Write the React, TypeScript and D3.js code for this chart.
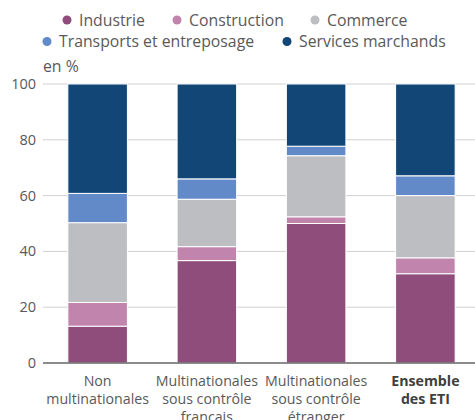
import React from "react";
import * as d3 from "d3";

const categories = [
  ["Non", "multinationales"],
  ["Multinationales", "sous contrôle", "français"],
  ["Multinationales", "sous contrôle", "étranger"],
  ["Ensemble", "des ETI"],
];
const boldCategory = [false, false, false, true];

const sectors = ["Industrie", "Construction", "Commerce", "Transports et entreposage", "Services marchands"];
const sectorColors = ["#8f4d7c", "#c184ad", "#bdbec2", "#628ac8", "#124677"];

// share of each sector, per category (en %)
const industrie = [13.2, 36.7, 50, 32];
const construction = [8.5, 5, 2.4, 5.7];
const commerce = [28.6, 17, 21.9, 22.3];
const transports = [10.5, 7.3, 3.4, 7.1];
const services = [39.2, 34, 22.3, 32.9];

const yTicks = [0, 20, 40, 60, 80, 100];

const W = 475;
const H = 420;
const font = "'Open Sans', sans-serif";
const textColor = "#595959";

export default function App() {
  const series = [industrie, construction, commerce, transports, services];
  const rows = categories.map((_, i) => {
    const r: any = { idx: i };
    sectors.forEach((s, j) => (r[s] = series[j][i]));
    return r;
  });
  const stacked = d3.stack<any>().keys(sectors)(rows);

  const x = d3
    .scaleBand<number>()
    .domain(categories.map((_, i) => i))
    .range([43, 480])
    .paddingInner(0.455)
    .paddingOuter(0.2275);
  const y = d3.scaleLinear().domain([0, 100]).range([363, 84]);

  const legendRows = [
    [
      { k: 0, cx: 67 },
      { k: 1, cx: 177 },
      { k: 2, cx: 315 },
    ],
    [
      { k: 3, cx: 47 },
      { k: 4, cx: 287 },
    ],
  ];

  return (
    <svg
      width={W}
      height={H}
      style={{ position: "absolute", left: 0, top: 0, fontFamily: font }}
    >
      {legendRows.map((row, ri) =>
        row.map((it) => (
          <g key={it.k} transform={`translate(${it.cx},${20 + ri * 21.5})`}>
            <circle r={4.5} fill={sectorColors[it.k]} />
            <text x={12} dy="0.35em" fontSize={15.8} fill={textColor}>
              {sectors[it.k]}
            </text>
          </g>
        ))
      )}

      <text x={43} y={72} fontSize={15.8} fill={textColor}>
        en %
      </text>

      {yTicks.map((t) => (
        <g key={t}>
          {t > 0 && (
            <line x1={43} x2={W} y1={y(t)} y2={y(t)} stroke="#d0d0d0" strokeWidth={1} />
          )}
          <text
            x={36}
            y={y(t)}
            dy="0.35em"
            textAnchor="end"
            fontSize={14.5}
            fill={textColor}
          >
            {t}
          </text>
        </g>
      ))}

      {stacked.map((layer, j) => (
        <g key={j} fill={sectorColors[j]}>
          {layer.map((d, i) => (
            <rect
              key={i}
              x={x(i)}
              width={x.bandwidth()}
              y={y(d[1])}
              height={y(d[0]) - y(d[1])}
              stroke="#fff"
              strokeWidth={1}
            />
          ))}
        </g>
      ))}

      <line x1={43} x2={W} y1={y(0)} y2={y(0)} stroke="#666" strokeWidth={1.5} />

      {categories.map((lines, i) => (
        <text
          key={i}
          x={(x(i) as number) + x.bandwidth() / 2}
          textAnchor="middle"
          fontSize={14.2}
          fill={boldCategory[i] ? "#404040" : textColor}
          fontWeight={boldCategory[i] ? 700 : 400}
        >
          {lines.map((l, k) => (
            <tspan key={k} x={(x(i) as number) + x.bandwidth() / 2} y={386 + k * 18}>
              {l}
            </tspan>
          ))}
        </text>
      ))}
    </svg>
  );
}
